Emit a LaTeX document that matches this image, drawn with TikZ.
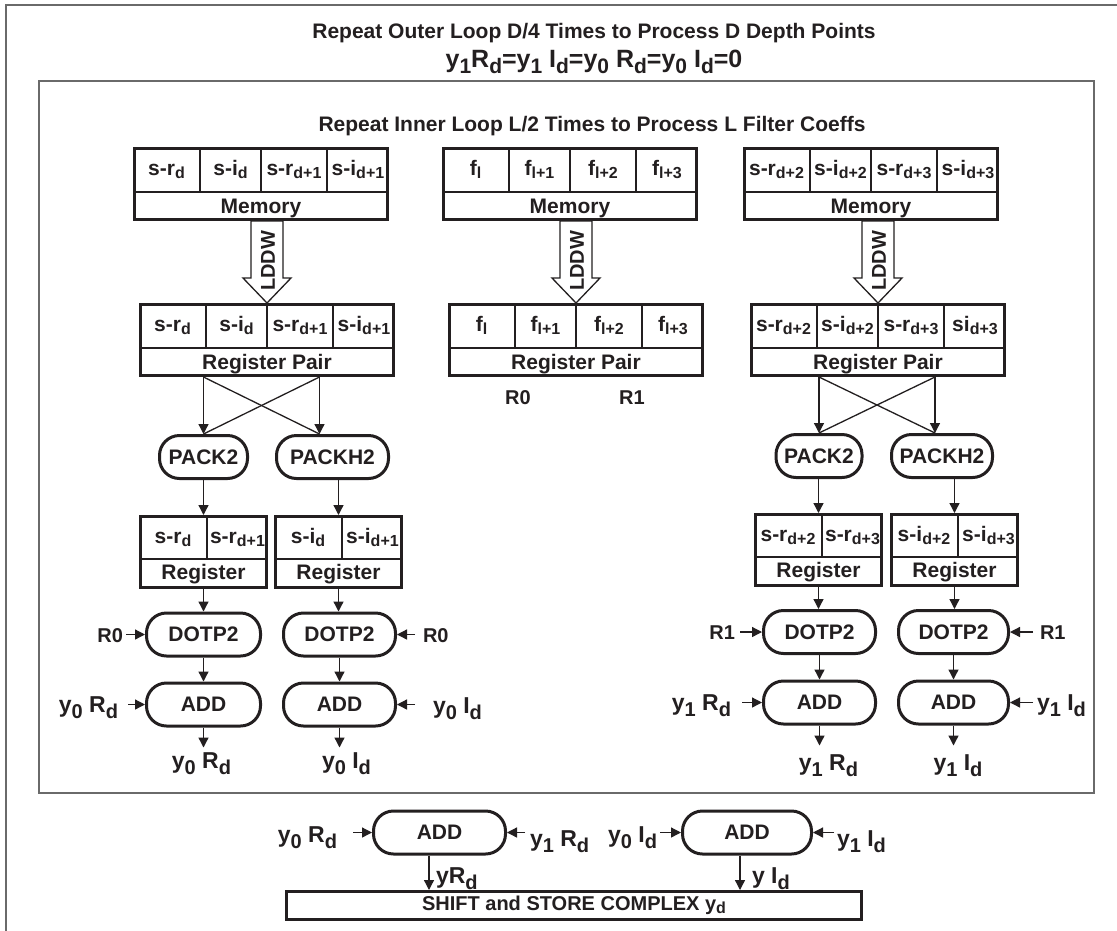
\documentclass[tikz,border=0pt]{standalone}
\usepackage{fontspec}
\setmainfont{Liberation Sans}
\usetikzlibrary{arrows.meta,calc}
\definecolor{ink}{HTML}{231F20}
\definecolor{frame}{HTML}{6A6A6A}
\newcommand\mainf{\fontsize{21}{25}\selectfont}
\newcommand\labf{\fontsize{23}{27}\selectfont}
\newcommand\lo[1]{\raisebox{-3pt}{\fontsize{16}{16}\selectfont #1}}
\newcommand\loL[1]{\raisebox{-6pt}{\fontsize{20}{20}\selectfont #1}}
\newcommand\loT[1]{\raisebox{-6pt}{\fontsize{21}{21}\selectfont #1}}
% four-cell word box: name, x, y (top-left), four cells, caption
\newcommand\quadbox[8]{%
  \node[cellbox, minimum width=253, minimum height=71, anchor=north west] (#1) at (#2,#3) {};
  \draw[grid] (#2,#3+45) -- (#2+256,#3+45);
  \draw[grid] (#2+67,#3) -- (#2+67,#3+45);
  \draw[grid] (#2+128,#3) -- (#2+128,#3+45);
  \draw[grid] (#2+194,#3) -- (#2+194,#3+45);
  \node[txt, anchor=base] (#1-a) at (#2+33.5,#3+28) {#4};
  \node[txt, anchor=base] (#1-b) at (#2+97.5,#3+28) {#5};
  \node[txt, anchor=base] (#1-c) at (#2+161,#3+28) {#6};
  \node[txt, anchor=base] (#1-d) at (#2+225,#3+28) {#7};
  \node[txt, anchor=base] (#1-cap) at (#2+128,#3+66.5) {#8};
}
% two-cell register: name, x, y (top-left), two cells
\newcommand\duobox[5]{%
  \node[cellbox, minimum width=126, minimum height=71, anchor=north west] (#1) at (#2,#3) {};
  \draw[grid] (#2,#3+44) -- (#2+129,#3+44);
  \draw[grid] (#2+68,#3) -- (#2+68,#3+44);
  \node[txt, anchor=base] (#1-a) at (#2+34,#3+28) {#4};
  \node[txt, anchor=base] (#1-b) at (#2+98.5,#3+28) {#5};
  \node[txt, anchor=base] (#1-cap) at (#2+64.5,#3+64) {Register};
}
% hollow LDDW load arrow from a memory box down to a register pair
\newcommand\lddw[3]{%
  \coordinate (#3-tip) at (#2.north);
  \coordinate (#3-top) at (#1.south -| #3-tip);
  \draw[hollow] (#3-tip) -- ([shift={(-24pt,25pt)}]#3-tip) -- ([shift={(-16pt,25pt)}]#3-tip)
     -- ([xshift=-16pt]#3-top) -- ([xshift=16pt]#3-top) -- ([shift={(16pt,25pt)}]#3-tip)
     -- ([shift={(24pt,25pt)}]#3-tip) -- cycle;
  \node[txt, rotate=90, font=\bfseries\fontsize{20}{24}\selectfont] (#3) at ([shift={(1pt,-40pt)}]#3-top) {LDDW};
}
\begin{document}
\begin{tikzpicture}[x=1pt,y=-1pt,font=\bfseries\mainf,
  txt/.style={inner sep=0pt, outer sep=0pt, text=ink},
  lab/.style={txt, font=\bfseries\labf},
  small/.style={txt, font=\bfseries\fontsize{20}{24}\selectfont},
  frm/.style={draw=frame, line width=2pt},
  cellbox/.style={draw=ink, line width=3pt, fill=white, inner sep=0pt, outer sep=1.5pt},
  grid/.style={draw=ink, line width=1.2pt},
  op/.style={draw=ink, line width=3pt, rounded corners=20pt, minimum height=43, inner sep=0pt, outer sep=1.5pt, text=ink},
  flow/.style={draw=ink, line width=1.3pt, -{Triangle[length=10pt,width=10pt]}},
  plain/.style={draw=ink, line width=1.3pt},
  hollow/.style={draw=ink, line width=1.3pt, fill=white, line join=miter}]
\clip (0,0) rectangle (1117,930);
\fill[white] (0,0) rectangle (1117,930);

% loop frames
\draw[frm] (6,940) -- (6,5) -- (1130,5);
\draw[frm] (39,81) rectangle (1094,793);

\node[txt, anchor=base] (outerTitle) at (594,38) {Repeat Outer Loop D/4 Times to Process D Depth Points};
\node[txt, anchor=base, font=\bfseries\fontsize{25}{29}\selectfont] (initTitle) at (594,67)
  {y\loT{1}R\loT{d}=y\loT{1} I\loT{d}=y\loT{0} R\loT{d}=y\loT{0} I\loT{d}=0};
\node[txt, anchor=base] (innerTitle) at (592,131) {Repeat Inner Loop L/2 Times to Process L Filter Coeffs};

% memory words
\quadbox{memL}{133}{147}{s-r\lo{d}}{s-i\lo{d}}{s-r\lo{d+1}}{s-i\lo{d+1}}{Memory}
\quadbox{memM}{442}{147}{f\lo{l}}{f\lo{l+1}}{f\lo{l+2}}{f\lo{l+3}}{Memory}
\quadbox{memR}{743}{147}{s-r\lo{d+2}}{s-i\lo{d+2}}{s-r\lo{d+3}}{s-i\lo{d+3}}{Memory}

% register pairs
\quadbox{rpL}{139}{303}{s-r\lo{d}}{s-i\lo{d}}{s-r\lo{d+1}}{s-i\lo{d+1}}{Register Pair}
\quadbox{rpM}{448}{303}{f\lo{l}}{f\lo{l+1}}{f\lo{l+2}}{f\lo{l+3}}{Register Pair}
\quadbox{rpR}{750}{303}{s-r\lo{d+2}}{s-i\lo{d+2}}{s-r\lo{d+3}}{si\lo{d+3}}{Register Pair}

\lddw{memL}{rpL}{ldL}
\lddw{memM}{rpM}{ldM}
\lddw{memR}{rpR}{ldR}

\node[small] (r0M) at (518,398) {R0};
\node[small] (r1M) at (632,398) {R1};

% pack operations
\node[op, minimum width=88] (pack2L) at (203.5,457) {PACK2};
\node[op, minimum width=112] (packh2L) at (332.5,457) {PACKH2};
\node[op, minimum width=86] (pack2R) at (819,456) {PACK2};
\node[op, minimum width=101] (packh2R) at (942,456) {PACKH2};

\coordinate (xL1) at (pack2L.north);
\coordinate (xL2) at ([xshift=-13pt]packh2L.north);
\coordinate (xR1) at (pack2R.north);
\coordinate (xR2) at ([xshift=-7pt]packh2R.north);
\draw[flow] (rpL.south -| xL1) -- (xL1);
\draw[flow] (rpL.south -| xL2) -- (xL2);
\draw[plain] (rpL.south -| xL1) -- (xL2);
\draw[plain] (rpL.south -| xL2) -- (xL1);
\draw[flow] (rpR.south -| xR1) -- (xR1);
\draw[flow] (rpR.south -| xR2) -- (xR2);
\draw[plain] (rpR.south -| xR1) -- (xR2);
\draw[plain] (rpR.south -| xR2) -- (xR1);

% packed registers
\duobox{regL1}{139}{515}{s-r\lo{d}}{s-r\lo{d+1}}
\duobox{regL2}{274}{515}{s-i\lo{d}}{s-i\lo{d+1}}
\duobox{regR1}{754}{513}{s-r\lo{d+2}}{s-r\lo{d+3}}
\duobox{regR2}{890}{513}{s-i\lo{d+2}}{s-i\lo{d+3}}

\draw[flow] (pack2L.south -| regL1.north) -- (regL1.north);
\draw[flow] (packh2L.south -| regL2.north) -- (regL2.north);
\draw[flow] (pack2R.south -| regR1.north) -- (regR1.north);
\draw[flow] (packh2R.south -| regR2.north) -- (regR2.north);

% dot products and accumulation
\node[op, minimum width=114] (dotL1) at (203.5,634.5) {DOTP2};
\node[op, minimum width=112] (dotL2) at (339.5,634.5) {DOTP2};
\node[op, minimum width=112] (dotR1) at (819.5,632) {DOTP2};
\node[op, minimum width=110] (dotR2) at (953.5,632) {DOTP2};
\node[op, minimum width=114] (addL1) at (203.5,704.5) {ADD};
\node[op, minimum width=112] (addL2) at (339.5,704.5) {ADD};
\node[op, minimum width=112] (addR1) at (819.5,702.5) {ADD};
\node[op, minimum width=110] (addR2) at (953.5,702.5) {ADD};

\draw[flow] (regL1.south) -- (regL1.south |- dotL1.north);
\draw[flow] (regL2.south) -- (regL2.south |- dotL2.north);
\draw[flow] (regR1.south) -- (regR1.south |- dotR1.north);
\draw[flow] (regR2.south) -- (regR2.south |- dotR2.north);
\draw[flow] (dotL1.south) -- (addL1.north);
\draw[flow] (dotL2.south) -- (addL2.north);
\draw[flow] (dotR1.south) -- (addR1.north);
\draw[flow] (dotR2.south) -- (addR2.north);

% coefficient inputs
\node[small, anchor=east] (r0L) at (123,636) {R0};
\node[small, anchor=west] (r0R) at (423,636) {R0};
\node[small, anchor=east] (r1L) at (735,633) {R1};
\node[small, anchor=west] (r1R) at (1040,633) {R1};
\draw[flow, shorten <=3pt] (dotL1.west -| r0L.east) -- (dotL1.west);
\draw[flow, shorten <=8pt] (dotL2.east -| r0R.west) -- (dotL2.east);
\draw[flow, shorten <=5pt] (dotR1.west -| r1L.east) -- (dotR1.west);
\draw[flow, shorten <=7pt] (dotR2.east -| r1R.west) -- (dotR2.east);

% accumulator inputs
\node[lab, anchor=base east] (accInL1) at (118,712) {y\loL{0} R\loL{d}};
\node[lab, anchor=base west] (accInL2) at (433,713) {y\loL{0} I\loL{d}};
\node[lab, anchor=base east] (accInR1) at (731,710) {y\loL{1} R\loL{d}};
\node[lab, anchor=base west] (accInR2) at (1037,710) {y\loL{1} I\loL{d}};
\draw[flow, shorten <=10pt] (addL1.west -| accInL1.east) -- (addL1.west);
\draw[flow, shorten <=18pt] (addL2.east -| accInL2.west) -- (addL2.east);
\draw[flow, shorten <=11pt] (addR1.west -| accInR1.east) -- (addR1.west);
\draw[flow, shorten <=4pt] (addR2.east -| accInR2.west) -- (addR2.east);

% accumulator outputs
\foreach \n in {addL1,addL2,addR1,addR2}
  \coordinate (\n-out) at ($(\n.south)+(0,20)$);
\draw[flow] (addL1.south) -- (addL1-out);
\draw[flow] (addL2.south) -- (addL2-out);
\draw[flow] (addR1.south) -- (addR1-out);
\draw[flow] (addR2.south) -- (addR2-out);
\node[lab, anchor=base] (accOutL1) at (201.5,768) {y\loL{0} R\loL{d}};
\node[lab, anchor=base] (accOutL2) at (346.5,768) {y\loL{0} I\loL{d}};
\node[lab, anchor=base] (accOutR1) at (828.5,770) {y\loL{1} R\loL{d}};
\node[lab, anchor=base] (accOutR2) at (958,770) {y\loL{1} I\loL{d}};

% final combination
\node[op, minimum width=132] (addB1) at (439.5,832.5) {ADD};
\node[op, minimum width=129] (addB2) at (747,832.5) {ADD};
\node[draw=ink, line width=3pt, minimum width=575, minimum height=28, inner sep=0pt, outer sep=1.5pt, text=ink,
      font=\bfseries\fontsize{20}{24}\selectfont] (store) at (574,905.5) {SHIFT and STORE COMPLEX y\lo{d}};

\node[lab, anchor=base east] (sumInA) at (337,842) {y\loL{0} R\loL{d}};
\node[lab, anchor=base west] (sumInB) at (530,846) {y\loL{1} R\loL{d}};
\node[lab, anchor=base east] (sumInC) at (657,842) {y\loL{0} I\loL{d}};
\node[lab, anchor=base west] (sumInD) at (837,846) {y\loL{1} I\loL{d}};
\draw[flow, shorten <=16pt] (addB1.west -| sumInA.east) -- (addB1.west);
\draw[flow, shorten <=5pt] (addB1.east -| sumInB.west) -- (addB1.east);
\draw[flow, shorten <=3pt] (addB2.west -| sumInC.east) -- (addB2.west);
\draw[flow, shorten <=3pt] (addB2.east -| sumInD.west) -- (addB2.east);

\coordinate (dropA) at ([xshift=-10.5pt]addB1.south);
\coordinate (dropB) at ([xshift=-7pt]addB2.south);
\draw[flow] (dropA) -- (dropA |- store.north);
\draw[flow] (dropB) -- (dropB |- store.north);
\node[lab, anchor=base west] (sumOutA) at (436,883) {yR\loL{d}};
\node[lab, anchor=base west] (sumOutB) at (752,883) {y I\loL{d}};
\end{tikzpicture}
\end{document}
